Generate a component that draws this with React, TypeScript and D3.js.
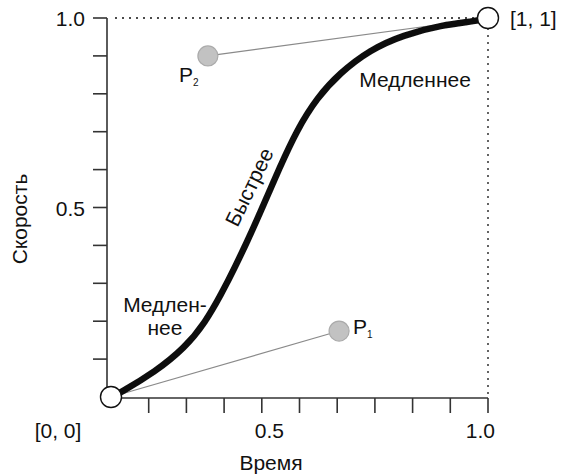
import React from "react";
import * as d3 from "d3";

// Easing curve samples (time, speed)
const curveTime = [0, 0.024, 0.117, 0.196, 0.249, 0.294, 0.329, 0.363, 0.395, 0.448, 0.493, 0.546, 0.607, 0.687, 0.774, 0.88, 0.97, 1];
const curveSpeed = [0, 0.011, 0.066, 0.13, 0.195, 0.274, 0.343, 0.414, 0.485, 0.607, 0.704, 0.789, 0.855, 0.916, 0.955, 0.982, 0.992, 1];

const xTicks = [0.1, 0.2, 0.3, 0.4, 0.5, 0.6, 0.7, 0.8, 0.9, 1.0];
const yTicks = [0.1, 0.2, 0.3, 0.4, 0.5, 0.6, 0.7, 0.8, 0.9, 1.0];
const xTickValues = [0.42, 0.98];
const xTickTexts = ["0.5", "1.0"];
const yTickValues = [0.5, 1.0];
const yTickTexts = ["0.5", "1.0"];

const endPoints: [number, number][] = [[0, 0], [1, 1]];
const endLabels = ["[0, 0]", "[1, 1]"];
const controlPoints: [number, number][] = [[0.605, 0.174], [0.257, 0.9]];
const controlNames = ["1", "2"];

const xTitle = "Время";
const yTitle = "Скорость";
const slowLabel = "Медленнее";
const slowLabelLines = ["Медлен-", "нее"];
const fastLabel = "Быстрее";

const W = 566;
const H = 476;
const FONT = "'Liberation Sans', Arial, Helvetica, sans-serif";

export default function App() {
  const x = d3.scaleLinear().domain([0, 1]).range([111, 488]);
  const y = d3.scaleLinear().domain([0, 1]).range([397, 18]);
  const pts: [number, number][] = curveTime.map((t, i) => [t, curveSpeed[i]]);
  const line = d3
    .line<[number, number]>()
    .x((d) => x(d[0]))
    .y((d) => y(d[1]))
    .curve(d3.curveBasis);
  const axisX = x(0) - 4;
  const axisY = y(0) + 1;
  const fs = 21;

  return (
    <svg width={W} height={H} style={{ position: "absolute", left: 0, top: 0, background: "#fff" }} fontFamily={FONT}>
      <defs>
        <filter id="soft" x="-5%" y="-5%" width="110%" height="110%">
          <feGaussianBlur stdDeviation="0.7" />
        </filter>
      </defs>
      <rect width={W} height={H} fill="#fff" />
      {/* dotted guides */}
      <line x1={axisX + 8} x2={x(1) - 10} y1={y(1)} y2={y(1)} stroke="#111" strokeWidth={1.3} strokeDasharray="2,5" />
      <line x1={x(1)} x2={x(1)} y1={y(1) + 10} y2={axisY - 4} stroke="#111" strokeWidth={1.3} strokeDasharray="2,5" />

      {/* y axis */}
      <line x1={axisX} x2={axisX} y1={y(1)} y2={axisY - 6} stroke="#333" strokeWidth={1.6} />
      {yTicks.map((t) => (
        <line key={"yt" + t} x1={axisX - 14} x2={axisX} y1={y(t)} y2={y(t)} stroke="#333" strokeWidth={1.6} />
      ))}
      {yTickValues.map((t, i) => (
        <text key={"yl" + t} x={axisX - 22} y={y(t)} dy="0.4em" textAnchor="end" fontSize={fs} fill="#111">
          {yTickTexts[i]}
        </text>
      ))}

      {/* x axis */}
      <line x1={x(0)} x2={x(1)} y1={axisY} y2={axisY} stroke="#333" strokeWidth={1.6} />
      {xTicks.map((t) => (
        <line key={"xt" + t} x1={x(t)} x2={x(t)} y1={axisY} y2={axisY + 15} stroke="#333" strokeWidth={1.6} />
      ))}
      {xTickValues.map((t, i) => (
        <text key={"xl" + t} x={x(t)} y={axisY + 40} textAnchor="middle" fontSize={fs} fill="#111">
          {xTickTexts[i]}
        </text>
      ))}
      <text x={271} y={axisY + 72} textAnchor="middle" fontSize={fs} fill="#111">{xTitle}</text>
      <text transform={`translate(${27},${219}) rotate(-90)`} textAnchor="middle" fontSize={fs} fill="#111">{yTitle}</text>

      {/* control handles */}
      <line x1={x(endPoints[0][0])} y1={y(endPoints[0][1])} x2={x(controlPoints[0][0])} y2={y(controlPoints[0][1])} stroke="#8a8a8a" strokeWidth={1.1} />
      <line x1={x(endPoints[1][0])} y1={y(endPoints[1][1])} x2={x(controlPoints[1][0])} y2={y(controlPoints[1][1])} stroke="#8a8a8a" strokeWidth={1.1} />

      {/* curve */}
      <path d={line(pts) || ""} fill="none" stroke="#111" strokeWidth={6.5} strokeLinecap="round" filter="url(#soft)" />

      {controlPoints.map((p, i) => (
        <circle key={"cp" + i} cx={x(p[0])} cy={y(p[1])} r={10} fill="#c2c2c2" stroke="#ababab" strokeWidth={1.2} />
      ))}
      {/* P labels */}
      <text x={x(controlPoints[0][0]) + 14} y={y(controlPoints[0][1]) + 3} fontSize={fs} fill="#111">
        P<tspan fontSize={10} dy={4}>{controlNames[0]}</tspan>
      </text>
      <text x={x(controlPoints[1][0]) - 29} y={y(controlPoints[1][1]) + 26} fontSize={fs} fill="#111">
        P<tspan fontSize={10} dy={4}>{controlNames[1]}</tspan>
      </text>

      {endPoints.map((p, i) => (
        <circle key={"ep" + i} cx={x(p[0])} cy={y(p[1])} r={10.5} fill="#fff" stroke="#111" strokeWidth={1.4} />
      ))}
      <text x={58} y={axisY + 40} textAnchor="middle" fontSize={fs} fill="#111">{endLabels[0]}</text>
      <text x={x(1) + 22} y={y(1)} dy="0.36em" fontSize={fs} fill="#111">{endLabels[1]}</text>

      {/* annotations */}
      <text x={415} y={87} textAnchor="middle" fontSize={fs} fill="#111">{slowLabel}</text>
      {slowLabelLines.map((s, i) => (
        <text key={"sl" + i} x={165} y={312 + i * 23} textAnchor="middle" fontSize={fs} fill="#111">{s}</text>
      ))}
      <text transform={`translate(${249},${187}) rotate(-64)`} textAnchor="middle" dy="0.36em" fontSize={fs} fill="#111">{fastLabel}</text>
    </svg>
  );
}
